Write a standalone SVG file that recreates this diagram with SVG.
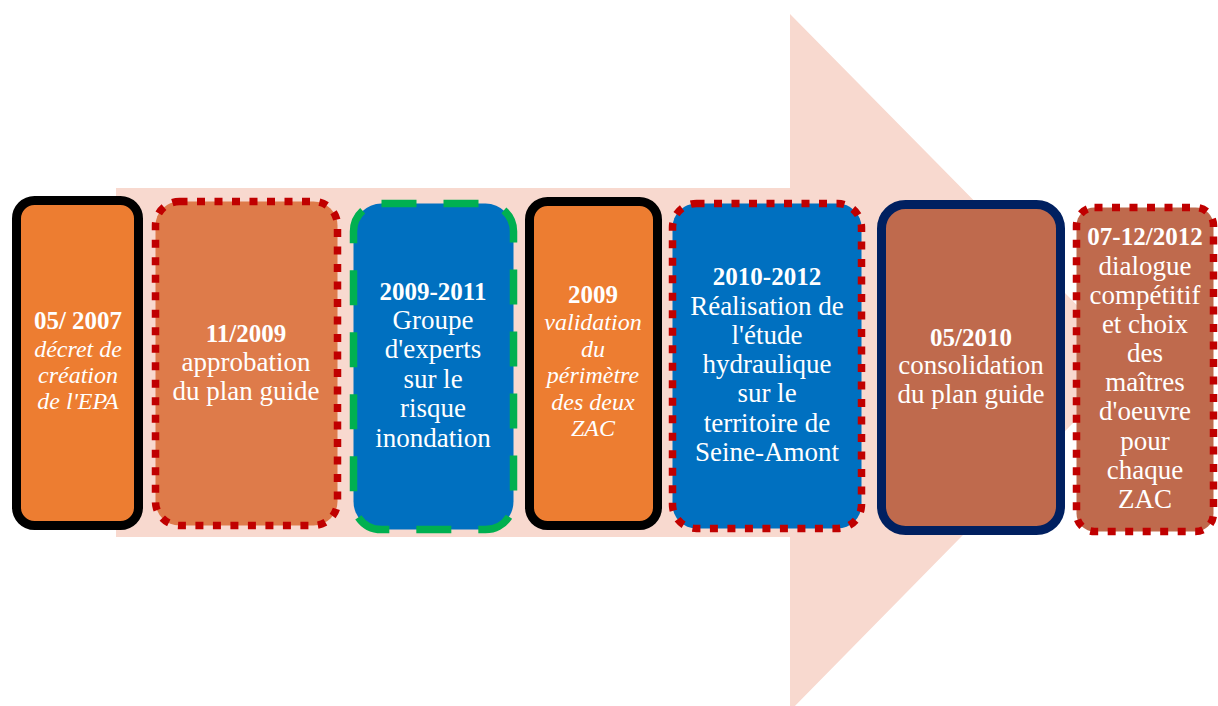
<svg xmlns="http://www.w3.org/2000/svg" width="1218" height="706" viewBox="0 0 1218 706">
<style>
.t{font-family:"Liberation Serif","Times New Roman",serif;fill:#FFFFFF;text-anchor:middle}
.r{font-size:27px}
.i{font-size:24px;font-style:italic}
.b{font-size:25px;font-weight:bold}
.solid{stroke-width:9}
.dot{stroke:#C00000;stroke-width:7.5;stroke-dasharray:8 9.5}
.dash{stroke:#00B050;stroke-width:7.5;stroke-dasharray:35 27}
</style>
<rect width="1218" height="706" fill="#FFFFFF"/>
<g id="arrow">
<polygon points="116,188 790,188 790,14 1133,362 790,711 790,537 116,537" fill="#F8D9CF"/>
</g>
<g id="connectors"></g>
<g id="n1">
<rect x="16.5" y="200.5" width="122" height="325" rx="18" fill="#ED7D31" stroke="#000000" class="solid"/>
<text class="t b" x="78" y="329">05/ 2007</text>
<text class="t i" x="78" y="357">décret de</text>
<text class="t i" x="78" y="383">création</text>
<text class="t i" x="78" y="409">de l'EPA</text>
</g>
<g id="n2">
<rect x="155.5" y="201.5" width="182" height="324" rx="24" fill="#DE7B4A" class="dot"/>
<text class="t b" x="246" y="342">11/2009</text>
<text class="t r" x="246" y="371">approbation</text>
<text class="t r" x="246" y="400">du plan guide</text>
</g>
<g id="n3">
<rect x="353.5" y="203.5" width="160" height="326" rx="28" fill="#0070C0" class="dash"/>
<text class="t b" x="433" y="300">2009-2011</text>
<text class="t r" x="433" y="329">Groupe</text>
<text class="t r" x="433" y="358">d'experts</text>
<text class="t r" x="433" y="388">sur le</text>
<text class="t r" x="433" y="417">risque</text>
<text class="t r" x="433" y="447">inondation</text>
</g>
<g id="n4">
<rect x="529.5" y="201.5" width="128" height="324" rx="18" fill="#ED7D31" stroke="#000000" class="solid"/>
<text class="t b" x="593" y="303">2009</text>
<text class="t i" x="593" y="330">validation</text>
<text class="t i" x="593" y="357">du</text>
<text class="t i" x="593" y="383">périmètre</text>
<text class="t i" x="593" y="410">des deux</text>
<text class="t i" x="593" y="436">ZAC</text>
</g>
<g id="n5">
<rect x="672.5" y="203.5" width="189" height="325" rx="24" fill="#0070C0" class="dot"/>
<text class="t b" x="767" y="285">2010-2012</text>
<text class="t r" x="767" y="315">Réalisation de</text>
<text class="t r" x="767" y="344">l'étude</text>
<text class="t r" x="767" y="373">hydraulique</text>
<text class="t r" x="767" y="402">sur le</text>
<text class="t r" x="767" y="432">territoire de</text>
<text class="t r" x="767" y="461">Seine-Amont</text>
</g>
<g id="n6">
<rect x="881.5" y="204.5" width="179" height="326" rx="24" fill="#BF6A4D" stroke="#002060" class="solid"/>
<text class="t b" x="971" y="346">05/2010</text>
<text class="t r" x="971" y="374">consolidation</text>
<text class="t r" x="971" y="403">du plan guide</text>
</g>
<g id="n7">
<rect x="1076.5" y="207.5" width="137" height="324" rx="18" fill="#BF6A4D" class="dot"/>
<text class="t b" x="1145" y="245">07-12/2012</text>
<text class="t r" x="1145" y="275">dialogue</text>
<text class="t r" x="1145" y="304">compétitif</text>
<text class="t r" x="1145" y="333">et choix</text>
<text class="t r" x="1145" y="362">des</text>
<text class="t r" x="1145" y="391">maîtres</text>
<text class="t r" x="1145" y="420">d'oeuvre</text>
<text class="t r" x="1145" y="450">pour</text>
<text class="t r" x="1145" y="479">chaque</text>
<text class="t r" x="1145" y="508">ZAC</text>
</g>
</svg>
